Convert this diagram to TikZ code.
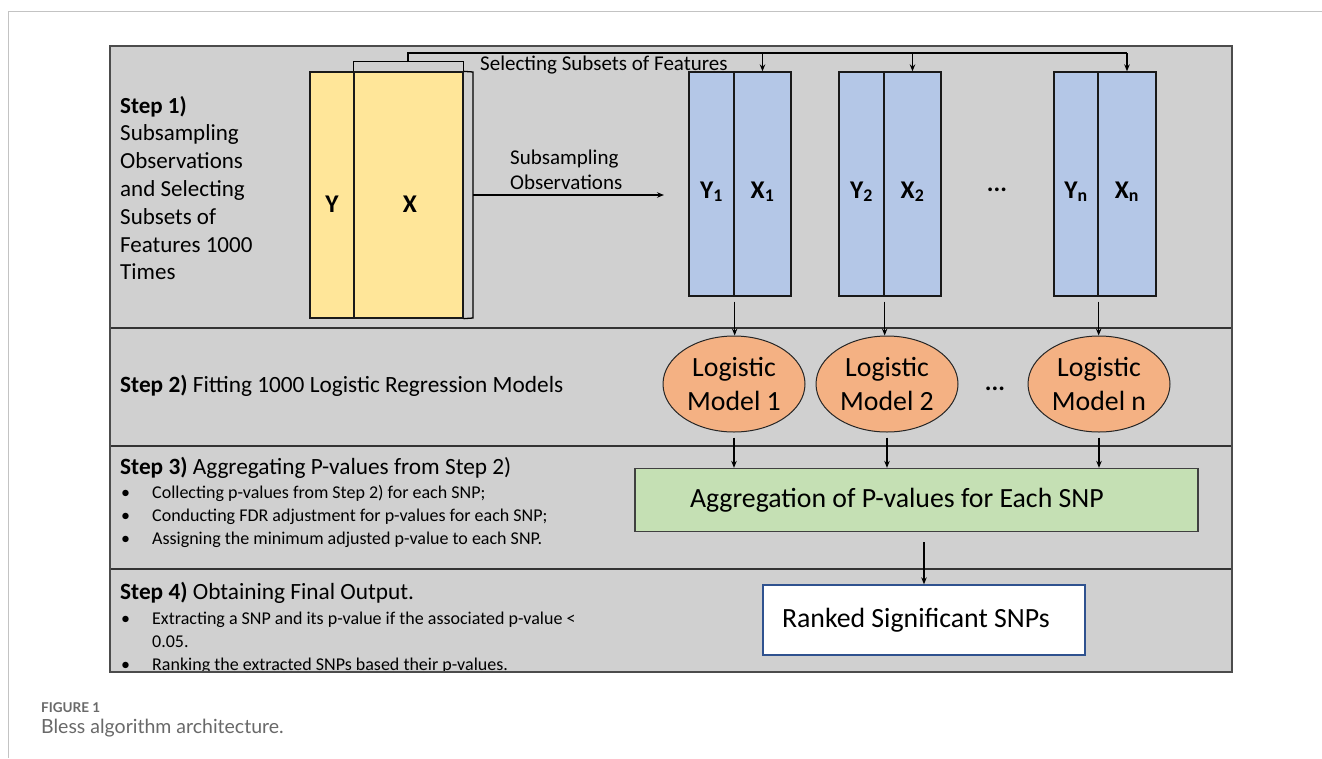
\documentclass[tikz,border=0pt]{standalone}
\usepackage{fontspec}
\setmainfont{Carlito}
\newfontfamily\capfont{Lato}
\usetikzlibrary{arrows.meta,shapes.geometric}
\definecolor{panel}{RGB}{208,208,208}
\definecolor{yel}{RGB}{255,230,153}
\definecolor{blu}{RGB}{180,199,231}
\definecolor{ora}{RGB}{244,177,131}
\definecolor{grn}{RGB}{197,224,180}
\definecolor{wbord}{RGB}{47,82,143}
\definecolor{capgray}{RGB}{105,105,105}
\definecolor{framegray}{RGB}{195,195,195}
\newcommand\setfs[2]{\fontsize{#1}{#2}\selectfont}
\begin{document}
\begin{tikzpicture}[x=1pt,y=-1pt,
  ycol/.style={draw=black!90, line width=1.3pt, fill=yel, inner sep=0pt, minimum height=246pt},
  bcol/.style={draw=black!90, line width=1.3pt, fill=blu, inner sep=0pt, minimum height=224pt},
  collab/.style={font=\bfseries\setfs{25.5}{30}, anchor=base, inner sep=0pt},
  ell/.style={ellipse, draw=black!85, line width=1pt, fill=ora, minimum width=142pt, minimum height=96pt, inner sep=0pt, align=center, font=\setfs{27.8}{34}},
  steptxt/.style={anchor=base west, inner sep=0pt, align=flush left},
  lbl/.style={font=\setfs{21}{25}, anchor=base west, inner sep=0pt, align=flush left},
  conn/.style={line width=1.3pt, black},
  arr/.style={conn, -{Stealth[length=7pt,width=5.5pt]}},
  divider/.style={line width=1.6pt, black!80},
  dots/.style={font=\bfseries\setfs{25}{30}, inner sep=0pt, anchor=base}
]
\useasboundingbox (0,0) rectangle (1322,758);
\fill[white] (0,0) rectangle (1322,758);
\draw[framegray, line width=1pt] (8,758) -- (8,11) -- (1322,11);

% panel and dividers
\fill[panel] (110,46) rectangle (1232,672);
\draw[divider] (110,328) -- (1232,328);
\draw[divider] (110,446) -- (1232,446);
\draw[divider] (110,569) -- (1232,569);

% Step texts
\node[steptxt, text width=200pt, font=\setfs{23}{27.8}] (s1) at (120,113)
 {\textbf{Step 1)}\\Subsampling\\Observations\\and Selecting\\Subsets of\\Features 1000\\Times};
\node[steptxt, font=\setfs{23.3}{27.8}] (s2) at (120,392)
 {\textbf{Step 2)} Fitting 1000 Logistic Regression Models};
\node[steptxt, font=\setfs{23.3}{27.8}] (s3) at (120,474)
 {\textbf{Step 3)} Aggregating P-values from Step 2)};
\node[steptxt, text width=480pt, font=\setfs{18}{23}] (s3b) at (120,498)
 {\makebox[32pt][l]{\hspace{1pt}\textbullet}Collecting p-values from Step 2) for each SNP;\\
  \makebox[32pt][l]{\hspace{1pt}\textbullet}Conducting FDR adjustment for p-values for each SNP;\\
  \makebox[32pt][l]{\hspace{1pt}\textbullet}Assigning the minimum adjusted p-value to each SNP.};
\node[steptxt, font=\setfs{23.3}{27.8}] (s4) at (120,599)
 {\textbf{Step 4)} Obtaining Final Output.};
\begin{scope}
\clip (110,569) rectangle (1232,672);
\node[steptxt, text width=480pt, font=\setfs{18}{23}] (s4b) at (120,624)
 {\makebox[32pt][l]{\hspace{1pt}\textbullet}Extracting a SNP and its p-value if the associated p-value <\\
  \hspace*{32pt}0.05.\\
  \makebox[32pt][l]{\hspace{1pt}\textbullet}Ranking the extracted SNPs based their p-values.};
\end{scope}
\draw[draw=black!70, line width=1.6pt] (110,46) rectangle (1232,672);

% yellow data block
\node[ycol, minimum width=44pt] (yY) at (332,195) {};
\node[ycol, minimum width=109pt] (yX) at (408.5,195) {};
\node[collab] (yYl) at (332,212) {Y};
\node[collab] (yXl) at (410,212) {X};

% brackets
\coordinate (tbm) at (408,62);
\coordinate (tb) at (408,53);
\coordinate (rb) at (473,195);
\coordinate (sub) at (664,195);
\draw[conn] (yX.north west) -- ++(0,-10) -| (yX.north east);
\draw[conn] (yX.north east) -- (473,72) -- (473,318) -- (yX.south east);

% blue subsets
\node[bcol, minimum width=45pt] (b1Y) at (711.5,184) {};
\node[bcol, minimum width=57pt] (b1X) at (762.5,184) {};
\node[bcol, minimum width=45pt] (b2Y) at (861.5,184) {};
\node[bcol, minimum width=57pt] (b2X) at (912.5,184) {};
\node[bcol, minimum width=44pt] (b3Y) at (1076,184) {};
\node[bcol, minimum width=58pt] (b3X) at (1127,184) {};
\node[collab] at (711.5,198) {Y\textsubscript{1}};
\node[collab] at (762.5,198) {X\textsubscript{1}};
\node[collab] at (861.5,198) {Y\textsubscript{2}};
\node[collab] at (912.5,198) {X\textsubscript{2}};
\node[collab] at (1076,198) {Y\textsubscript{n}};
\node[collab] at (1127,198) {X\textsubscript{n}};
\node[dots] (bd) at (997,191) {...};

\draw[conn] (tbm) -- (tb) -- (b3X.north |- tb);
\draw[arr] (b1X.north |- tb) -- (b1X.north);
\draw[arr] (b2X.north |- tb) -- (b2X.north);
\draw[arr] (b3X.north |- tb) -- (b3X.north);
\draw[arr] (rb) -- (sub);

\node[lbl] (selt) at (480,70) {Selecting Subsets of Features};
\node[lbl, text width=150pt] (subt) at (510,164) {Subsampling\\Observations};

% ellipses
\node[ell] (e1) at (734,384) {Logistic\\Model 1};
\node[ell] (e2) at (887,384) {Logistic\\Model 2};
\node[ell] (e3) at (1099,384) {Logistic\\Model n};
\node[dots] (ed) at (995,390) {...};

\draw[arr, shorten <=5pt] (b1Y.south east) -- (b1Y.south east |- e1.north);
\draw[arr, shorten <=5pt] (b2Y.south east) -- (b2Y.south east |- e2.north);
\draw[arr, shorten <=5pt] (b3Y.south east) -- (b3Y.south east |- e3.north);

% aggregation
\node[draw=black!75, line width=1.3pt, fill=grn, minimum height=63pt, inner xsep=55pt, inner ysep=0pt,
      text width=453pt, align=flush left, font=\setfs{27.8}{34}] (g) at (916.5,500) {Aggregation of P-values for Each SNP};
\draw[arr, shorten <=5pt] (e1.south) -- (e1.south |- g.north);
\draw[arr, shorten <=5pt] (e2.south) -- (e2.south |- g.north);
\draw[arr, shorten <=5pt] (e3.south) -- (e3.south |- g.north);

% result
\node[draw=wbord, line width=1.3pt, fill=white, minimum height=70pt, inner xsep=19pt, inner ysep=0pt,
      text width=284pt, align=flush left, font=\setfs{27.8}{34}] (w) at (924,620) {Ranked Significant SNPs};
\draw[arr, shorten <=10pt] (w.north |- g.south) -- (w.north);

% caption
\node[anchor=base west, inner sep=0pt, text=capgray, font=\capfont\bfseries\setfs{13.5}{16}] (fig) at (41,712) {FIGURE 1};
\node[anchor=base west, inner sep=0pt, text=capgray, font=\capfont\setfs{19.5}{23}] (cap) at (41,733) {Bless algorithm architecture.};
\end{tikzpicture}
\end{document}
